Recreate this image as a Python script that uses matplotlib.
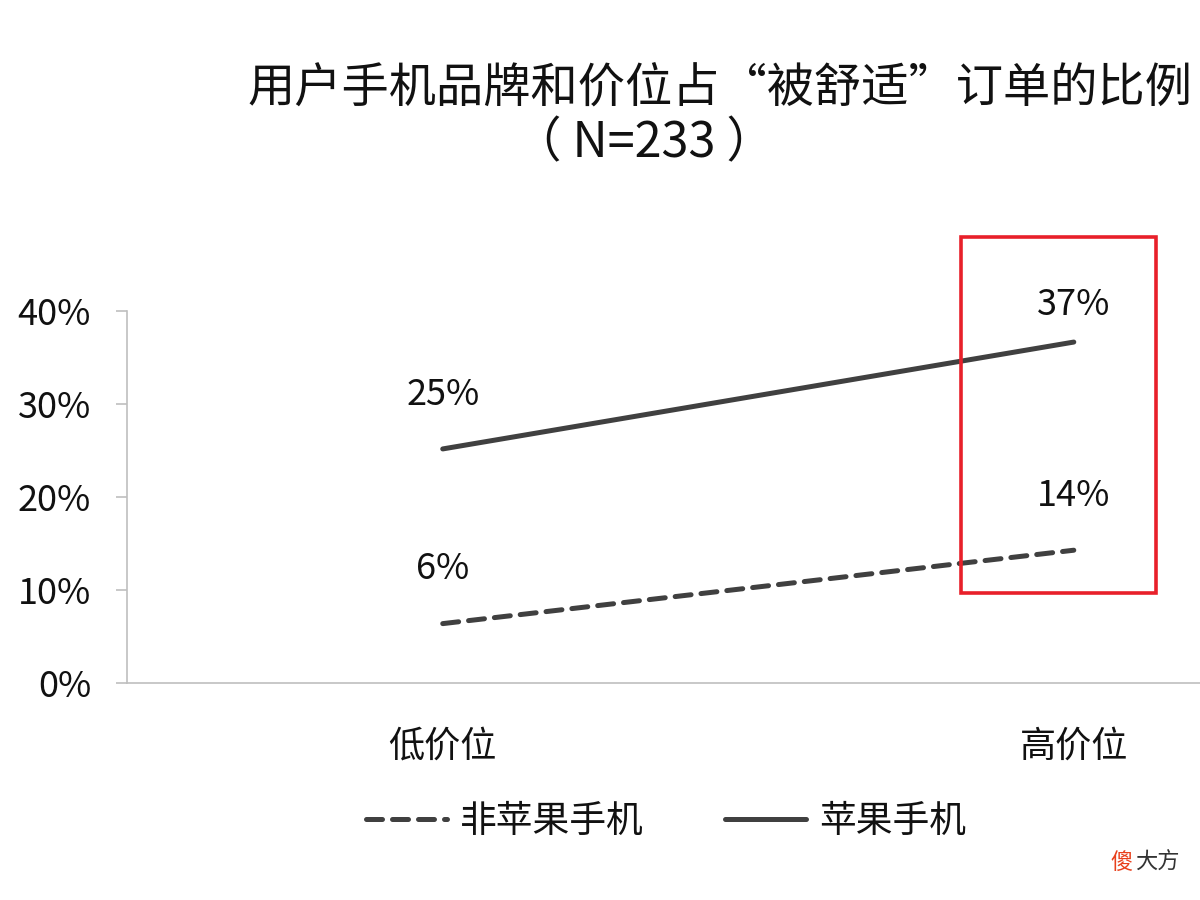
import matplotlib
matplotlib.use("Agg")
import matplotlib.pyplot as plt
from matplotlib.patches import Rectangle
from matplotlib.ticker import PercentFormatter

plt.rcParams["font.family"] = ["Noto Sans CJK SC", "DejaVu Sans"]

# ── data ──
categories = ["低价位", "高价位"]
apple = [0.252, 0.367]
non_apple = [0.064, 0.143]
apple_labels = ["25%", "37%"]
non_apple_labels = ["6%", "14%"]
y_ticks = [0.0, 0.1, 0.2, 0.3, 0.4]

title_line1 = "用户手机品牌和价位占“被舒适”订单的比例"
title_line2 = "（ N=233 ）"

line_color = "#404040"
axis_color = "#bfbfbf"
text_color = "#111111"
red = "#e8202a"

fig = plt.figure(figsize=(12, 9), dpi=100)
ax = fig.add_axes([0.106, 0.241, 0.894, 0.413])

x = list(range(len(categories)))
ax.plot(x, non_apple, color=line_color, lw=3.6, ls=(0, (3.2, 2.0)),
        dash_capstyle="round", solid_capstyle="round", label="非苹果手机")
ax.plot(x, apple, color=line_color, lw=3.6, solid_capstyle="round",
        label="苹果手机")

# data labels above points (offsets in points)
apple_offsets = [39, 27]
non_apple_offsets = [39, 39]
for xi, v, t, off in zip(x, apple, apple_labels, apple_offsets):
    ax.annotate(t, (xi, v), xytext=(0, off), textcoords="offset points",
                ha="center", va="center", fontsize=26, color=text_color)
for xi, v, t, off in zip(x, non_apple, non_apple_labels, non_apple_offsets):
    ax.annotate(t, (xi, v), xytext=(0, off), textcoords="offset points",
                ha="center", va="center", fontsize=26, color=text_color)

ax.set_xlim(-0.5, 1.2)
ax.set_ylim(0, 0.4)
ax.set_yticks(y_ticks)
ax.yaxis.set_major_formatter(PercentFormatter(1.0, decimals=0))
ax.set_xticks(x)
ax.set_xticklabels(categories)
ax.tick_params(axis="y", length=8, width=1.2, color=axis_color,
               labelsize=26, pad=18, labelcolor=text_color)
ax.tick_params(axis="x", length=0, labelsize=26, pad=33, labelcolor=text_color)
for side in ["top", "right"]:
    ax.spines[side].set_visible(False)
for side in ["left", "bottom"]:
    ax.spines[side].set_color(axis_color)
    ax.spines[side].set_linewidth(1.2)

# highlight box around the high price group
hl_idx = 1
ax.add_patch(Rectangle((hl_idx - 0.179, 0.097), 0.309, 0.383,
                       fill=False, edgecolor=red, lw=2.6, clip_on=False,
                       zorder=5))

# titles
fig.text(0.600, 0.902, title_line1, ha="center", va="center", fontsize=34,
         color=text_color)
fig.text(0.537, 0.841, title_line2, ha="center", va="center", fontsize=35,
         color=text_color)

# legend
leg = fig.legend(loc="center", bbox_to_anchor=(0.555, 0.087), ncol=2,
                 frameon=False, fontsize=26.5, handlelength=2.2,
                 handletextpad=0.35, columnspacing=2.2)
for t in leg.get_texts():
    t.set_color(text_color)

# watermark
fig.text(0.925, 0.042, "傻", ha="left", va="center", fontsize=16,
         color="#e8401c")
fig.text(0.946, 0.042, "大方", ha="left", va="center", fontsize=16,
         color="#333333")

fig.savefig("out.png", dpi=100, facecolor="white")
